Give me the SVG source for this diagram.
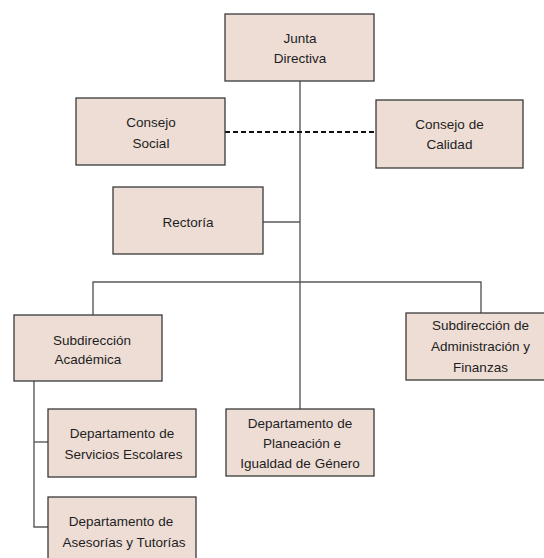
<svg xmlns="http://www.w3.org/2000/svg" width="544" height="558" viewBox="0 0 544 558">
<style>
.box{fill:#EDDDD5;stroke:#3a3a3a;stroke-width:1.3}
.t{font-family:"Liberation Sans",Arial,sans-serif;font-size:13.5px;fill:#1e1e1e;text-anchor:middle}
.ln{fill:none;stroke:#5a5a5a;stroke-width:1.4}
.dash{fill:none;stroke:#111;stroke-width:2;stroke-dasharray:5,3}
</style>
<rect width="544" height="558" fill="#ffffff"/>
<g id="connectors">
<path class="ln" d="M300,81 V409"/>
<path class="ln" d="M263,222 H300"/>
<path class="ln" d="M93,315 V282 H481 V313"/>
<path class="ln" d="M34,381 V527 H48"/>
<path class="ln" d="M34,442 H48"/>
<path class="dash" d="M225,132 H376"/>
</g>
<g id="junta">
<rect class="box" x="225" y="14" width="149" height="67"/>
<text class="t" x="300" y="43">Junta</text>
<text class="t" x="300" y="63">Directiva</text>
</g>
<g id="consejo-social">
<rect class="box" x="76" y="98" width="149" height="67"/>
<text class="t" x="151" y="127">Consejo</text>
<text class="t" x="151" y="148">Social</text>
</g>
<g id="consejo-calidad">
<rect class="box" x="376" y="100" width="147" height="68"/>
<text class="t" x="449.5" y="129">Consejo de</text>
<text class="t" x="449.5" y="149">Calidad</text>
</g>
<g id="rectoria">
<rect class="box" x="113" y="187" width="150" height="67"/>
<text class="t" x="188" y="227">Rectoría</text>
</g>
<g id="sub-academica">
<rect class="box" x="14" y="315" width="148" height="66"/>
<text class="t" x="92" y="345">Subdirección</text>
<text class="t" x="88" y="364">Académica</text>
</g>
<g id="sub-admin">
<rect class="box" x="406" y="313" width="150" height="67"/>
<text class="t" x="480.5" y="330">Subdirección de</text>
<text class="t" x="480.5" y="351">Administración y</text>
<text class="t" x="480.5" y="372">Finanzas</text>
</g>
<g id="depto-planeacion">
<rect class="box" x="226" y="409" width="148" height="67"/>
<text class="t" x="300" y="428">Departamento de</text>
<text class="t" x="302" y="448">Planeación e</text>
<text class="t" x="300" y="468">Igualdad de Género</text>
</g>
<g id="depto-servicios">
<rect class="box" x="48" y="409" width="148" height="68"/>
<text class="t" x="122" y="438">Departamento de</text>
<text class="t" x="123.5" y="459">Servicios Escolares</text>
</g>
<g id="depto-asesorias">
<rect class="box" x="48" y="497" width="148" height="68"/>
<text class="t" x="121" y="526">Departamento de</text>
<text class="t" x="124" y="547">Asesorías y Tutorías</text>
</g>
</svg>
